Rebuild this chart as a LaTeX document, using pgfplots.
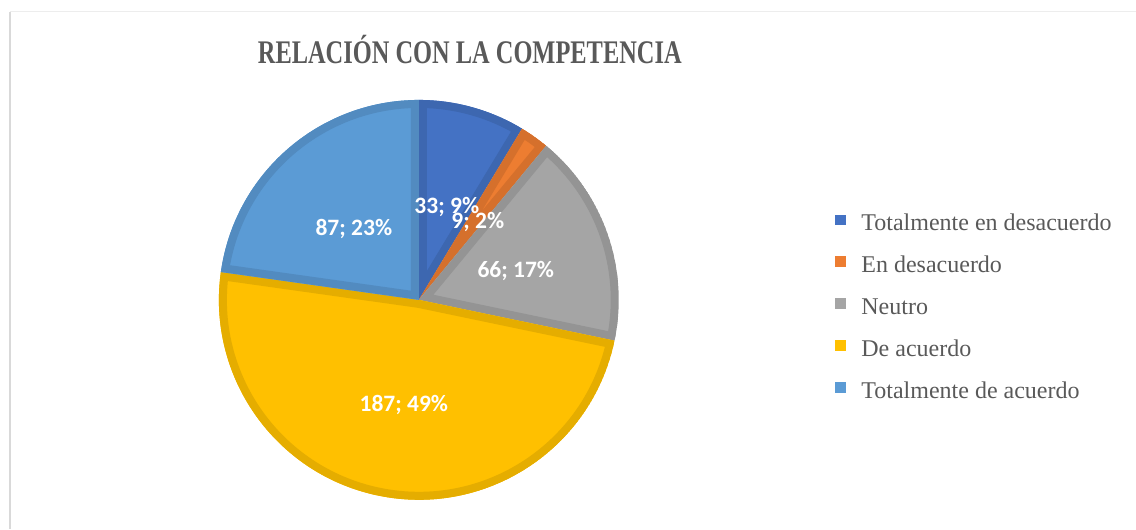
\documentclass[border=0pt]{standalone}
\usepackage{pgfplots}
\pgfplotsset{compat=1.18}
\usepackage{graphicx}
\usepackage{fontspec}
\setmainfont{Liberation Serif}
\newfontfamily\labfont{Carlito}
\definecolor{c1}{HTML}{4472C4}
\definecolor{c2}{HTML}{ED7D31}
\definecolor{c3}{HTML}{A5A5A5}
\definecolor{c4}{HTML}{FFC000}
\definecolor{c5}{HTML}{5B9BD5}
\definecolor{txt}{HTML}{595959}
\begin{document}
\begin{tikzpicture}
\begin{axis}[
  width=568pt, height=264.5pt, scale only axis,
  xmin=0, xmax=1136, ymin=0, ymax=529,
  hide axis, clip=false,
  legend style={at={(axis cs:829,321)}, anchor=north west, draw=none, fill=none,
    font=\fontsize{12}{14}\selectfont, text=txt,
    nodes={inner sep=0pt, text height=9pt, text depth=3pt},
    row sep=9pt, column sep=0pt},
  legend cell align=left,
  legend image code/.code={\fill[#1, draw=none] (0pt,-0.6pt) rectangle (5.5pt,4.9pt); \path (13pt,0pt);}
]
\addlegendimage{fill=c1}\addlegendentry{Totalmente en desacuerdo}
\addlegendimage{fill=c2}\addlegendentry{En desacuerdo}
\addlegendimage{fill=c3}\addlegendentry{Neutro}
\addlegendimage{fill=c4}\addlegendentry{De acuerdo}
\addlegendimage{fill=c5}\addlegendentry{Totalmente de acuerdo}

% keep the full canvas as bounding box
\path (axis cs:0,0) rectangle (axis cs:1136,529);

% chart frame
\draw[color=black!15, line width=1pt] (axis cs:10,0) -- (axis cs:10,517);
\draw[color=black!7, line width=0.5pt] (axis cs:10,517) -- (axis cs:1136,517);

% title
\node[text=txt, font=\fontsize{16.5}{18}\selectfont\bfseries] at (axis cs:470,479)
  {\scalebox{0.74}[1]{RELACIÓN CON LA COMPETENCIA}};

% pie slices (values: 33, 9, 66, 187, 87; total 382)
\gdef\cum{0}
\foreach \v/\fc in {33/c1, 9/c2, 66/c3, 187/c4, 87/c5} {
  \pgfmathsetmacro\sa{90-\cum/382*360}
  \pgfmathsetmacro\newcum{\cum+\v}
  \pgfmathsetmacro\ea{90-\newcum/382*360}
  \xdef\cum{\newcum}
  \edef\temp{\noexpand\begin{scope}
    \noexpand\clip (axis cs:419,229) -- ++(\sa:100pt) arc[start angle=\sa, end angle=\ea, radius=100pt] -- cycle;
    \noexpand\fill[\fc] (axis cs:419,229) -- ++(\sa:100pt) arc[start angle=\sa, end angle=\ea, radius=100pt] -- cycle;
    \noexpand\draw[\fc!90!black, line width=8pt, line join=round] (axis cs:419,229) -- ++(\sa:100pt) arc[start angle=\sa, end angle=\ea, radius=100pt] -- cycle;
    \noexpand\end{scope}}
  \temp
}

% data labels
\foreach \lx/\ly/\lab in {447/322/{33; 9\%}, 478/307/{9; 2\%}, 516/258/{66; 17\%}, 404/124/{187; 49\%}, 354/300/{87; 23\%}} {
  \edef\temp{\noexpand\node[text=white, font=\noexpand\labfont\noexpand\fontsize{11.75}{13}\noexpand\selectfont\noexpand\bfseries] at (axis cs:\lx,\ly) {\lab};}
  \temp
}
\end{axis}
\end{tikzpicture}
\end{document}
